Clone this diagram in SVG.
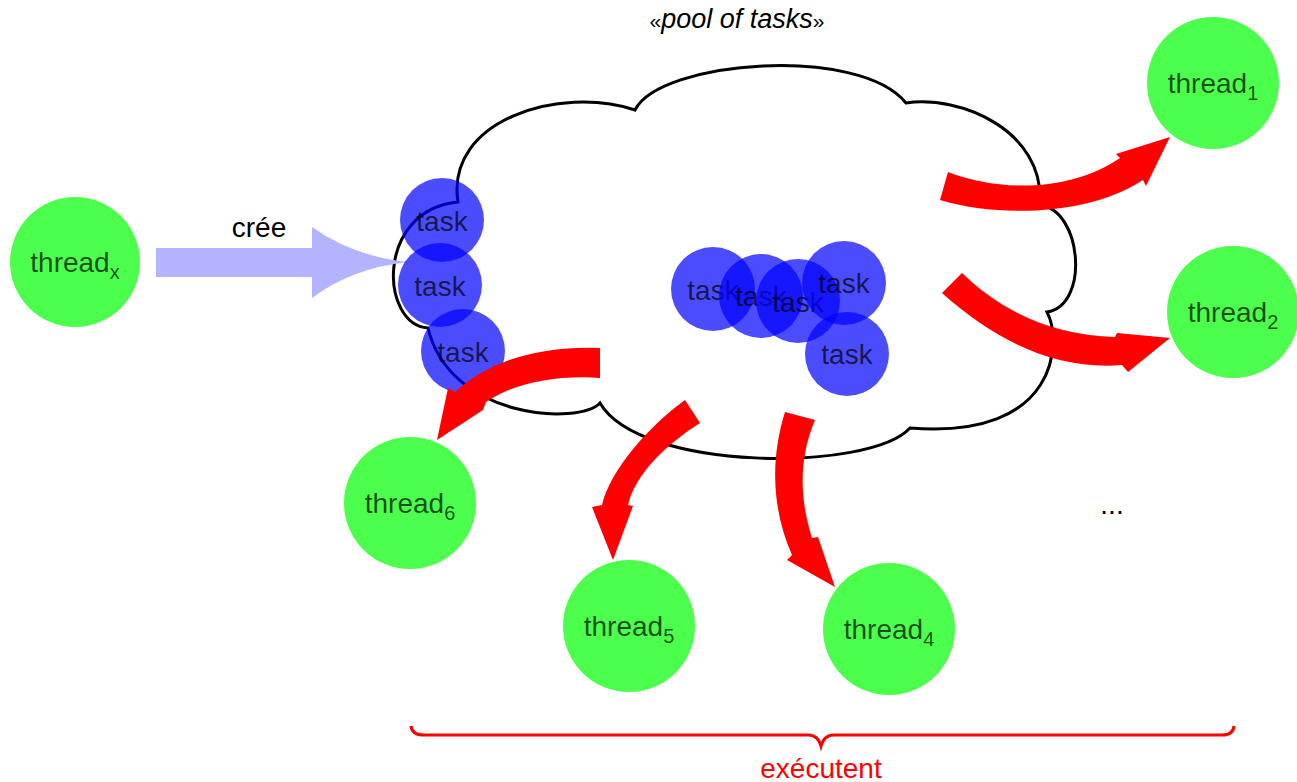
<svg xmlns="http://www.w3.org/2000/svg" width="1297" height="782" viewBox="0 0 1297 782">
<style>
text{font-family:"Liberation Sans",Arial,sans-serif;}
.thread circle{fill:#4dff4d;}
.thread text{font-size:28px;fill:#000;fill-opacity:0.7;text-anchor:middle;}
.task circle{fill:#0000ff;fill-opacity:0.7;}
.task text{font-size:28px;fill:#000;fill-opacity:0.7;text-anchor:middle;}
.red{fill:#ff0000;stroke:none;}
</style>
<rect width="1297" height="782" fill="#fff"/>
<text x="737" y="28" font-size="27" font-style="italic" text-anchor="middle"><tspan font-style="normal" font-size="21">«</tspan>pool of tasks<tspan font-style="normal" font-size="21">»</tspan></text>
<g id="pool">
<path d="M635,110 C660,60 860,45 906,103 C960,95 1045,130 1040,205 C1082,210 1090,305 1047,312 C1062,340 1060,440 910,428 C870,472 640,472 600,403 C580,425 450,420 428,328 C380,325 375,210 458,202 C445,120 560,85 635,110 Z" fill="#fff" stroke="#000" stroke-width="3" stroke-linejoin="miter"/>
</g>
<g id="connectors">
<path id="cree" d="M156,248 L312,248 L312,227 Q352,256 408,262 Q352,268 312,298 L312,277 L156,277 Z" fill="#b3b3ff"/>
<text x="259" y="237" font-size="28" text-anchor="middle">crée</text>
</g>
<g id="tasks">
<g class="task" id="task-l1"><circle cx="442" cy="220" r="42"/><text x="442" y="231">task</text></g>
<g class="task" id="task-l2"><circle cx="440" cy="285" r="42"/><text x="440" y="296">task</text></g>
<g class="task" id="task-l3"><circle cx="463" cy="351" r="42"/><text x="463" y="362">task</text></g>
<g class="task" id="task-c1"><circle cx="713" cy="289" r="42"/><text x="713" y="300">task</text></g>
<g class="task" id="task-c2"><circle cx="761" cy="296" r="42"/><text x="761" y="306">task</text></g>
<g class="task" id="task-c3"><circle cx="798" cy="301" r="42"/><text x="798" y="312">task</text></g>
<g class="task" id="task-c4"><circle cx="844" cy="283" r="42"/><text x="844" y="293">task</text></g>
<g class="task" id="task-c5"><circle cx="847" cy="354" r="42"/><text x="847" y="364">task</text></g>
</g>
<g id="exec-arrows">
<path class="red" d="M948,172 C1000,192 1070,192 1120,158 L1116,154 L1170,137 L1146,186 L1143,180 C1090,215 1000,218 940,200 Z"/>
<path class="red" d="M962,273 C1000,310 1050,335 1115,337 L1117,333 L1170,338 L1128,372 L1122,365 C1060,370 1000,345 942,293 Z"/>
<path class="red" d="M600,348 C540,346 490,360 455,392 L448,388 L437,440 L483,410 L486,402 C515,382 560,375 600,378 Z"/>
<path class="red" d="M685,400 C650,425 610,470 602,505 L592,507 L613,560 L633,506 L628,505 C635,475 665,445 700,423 Z"/>
<path class="red" d="M785,412 C770,460 772,510 792,555 L787,560 L835,587 L818,537 L812,538 C800,500 798,460 815,420 Z"/>
</g>
<g class="thread" id="threadx"><circle cx="75" cy="262" r="65"/><text x="75" y="272">thread<tspan font-size="20" dy="7">x</tspan></text></g>
<g class="thread" id="thread1"><circle cx="1213" cy="83" r="66"/><text x="1213" y="93">thread<tspan font-size="20" dy="7">1</tspan></text></g>
<g class="thread" id="thread2"><circle cx="1233" cy="312" r="66"/><text x="1233" y="322">thread<tspan font-size="20" dy="7">2</tspan></text></g>
<g class="thread" id="thread6"><circle cx="410" cy="503" r="66"/><text x="410" y="513">thread<tspan font-size="20" dy="7">6</tspan></text></g>
<g class="thread" id="thread5"><circle cx="629" cy="626" r="66"/><text x="629" y="636">thread<tspan font-size="20" dy="7">5</tspan></text></g>
<g class="thread" id="thread4"><circle cx="889" cy="629" r="66"/><text x="889" y="639">thread<tspan font-size="20" dy="7">4</tspan></text></g>
<text x="1112" y="514" font-size="28" text-anchor="middle">...</text>
<g id="brace">
<path d="M411,726 Q412,735 424,735 L808,735 Q818,735 821,746 Q824,735 834,735 L1222,735 Q1233,735 1234,726" fill="none" stroke="#ff0000" stroke-width="3"/>
<text x="821" y="778" font-size="28" fill="#ff0000" text-anchor="middle">exécutent</text>
</g>
</svg>
